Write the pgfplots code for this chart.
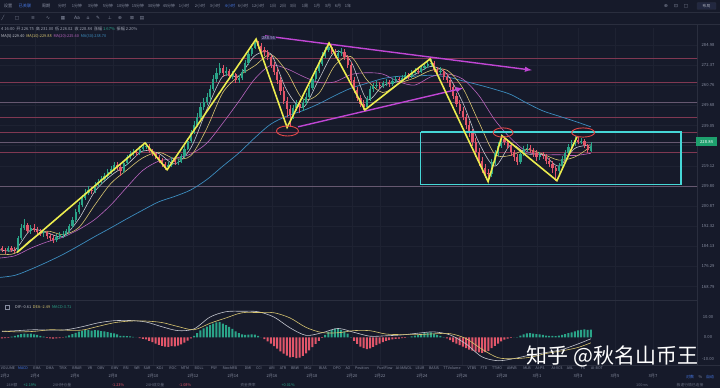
\documentclass[border=0pt]{standalone}
\usepackage{fontspec}
\setmainfont{Noto Sans CJK SC}
\newfontfamily\sym{DejaVu Sans}
\usepackage{pgfplots}
\usepackage{pgfplotstable}
\pgfplotsset{compat=1.18}
\newcommand{\fs}[1]{\fontsize{#1}{#1}\selectfont}
\definecolor{bg}{RGB}{22,26,42}
\definecolor{upc}{RGB}{42,164,136}
\definecolor{dnc}{RGB}{226,86,106}
\definecolor{txt}{RGB}{135,141,160}
\definecolor{lvl}{RGB}{128,56,82}
\definecolor{lvg}{RGB}{102,88,112}
\definecolor{gridc}{RGB}{30,34,50}
\definecolor{sepc}{RGB}{42,46,62}
\definecolor{ma5}{RGB}{195,198,206}
\definecolor{ma10}{RGB}{215,196,112}
\definecolor{ma20}{RGB}{185,100,190}
\definecolor{ma60}{RGB}{60,140,190}
\definecolor{zz}{RGB}{236,236,78}
\definecolor{mag}{RGB}{192,70,212}
\definecolor{cy}{RGB}{70,215,215}
\definecolor{ell}{RGB}{228,72,72}
\definecolor{lav}{RGB}{185,175,235}
\definecolor{lavbg}{RGB}{48,45,80}
\definecolor{blu}{RGB}{70,120,230}
\definecolor{pg}{RGB}{30,160,110}
\definecolor{boxbg}{RGB}{34,40,64}

\pgfplotstableread{
k o h l c m
0 183.4 184.4 181.9 182.8 -0.4
1 182.8 183.6 181.2 182.3 -0.3
2 182.3 184.5 181.8 183.4 -0.2
3 183.4 184.2 182.0 182.9 0.4
4 182.9 183.8 181.6 182.5 0.8
5 182.5 188.4 182.1 187.5 1.2
6 187.5 193.5 187.0 191.8 1.6
7 191.8 195.6 190.9 193.0 1.8
8 193.0 194.0 189.6 190.5 1.7
9 190.5 192.8 189.4 191.6 1.8
10 191.6 193.4 189.9 190.8 1.5
11 190.8 192.0 188.8 190.2 1.2
12 190.2 191.5 188.6 189.6 0.8
13 189.6 191.0 188.1 189.9 0.4
14 189.9 190.6 187.4 188.4 -0.2
15 188.4 189.4 186.2 187.8 -0.4
16 187.8 188.7 185.6 186.9 -0.5
17 186.9 189.3 186.0 188.2 -0.4
18 188.2 190.2 187.4 188.9 -0.3
19 188.9 190.5 187.8 189.1 -0.1
20 189.1 191.3 188.3 190.4 0.4
21 190.4 193.4 189.8 192.5 1.0
22 192.5 196.2 191.9 195.0 1.6
23 195.0 199.6 194.3 198.3 2.2
24 198.3 203.0 197.6 201.4 2.7
25 201.4 206.0 200.5 204.6 3.1
26 204.6 208.4 203.8 206.9 3.4
27 206.9 209.8 205.9 208.0 3.5
28 208.0 209.5 206.2 207.6 3.2
29 207.6 211.7 206.8 210.4 3.4
30 210.4 213.0 209.5 211.8 3.3
31 211.8 214.6 210.9 213.2 3.0
32 213.2 216.0 212.4 214.6 2.8
33 214.6 217.8 213.8 216.3 2.5
34 216.3 219.3 215.5 217.8 2.2
35 217.8 221.4 217.0 219.7 1.9
36 219.7 221.0 217.6 218.9 1.4
37 218.9 219.8 214.8 216.8 0.8
38 216.8 221.8 216.0 220.6 0.7
39 220.6 224.8 219.8 223.4 0.6
40 223.4 226.4 222.6 224.9 0.5
41 224.9 227.6 224.0 226.0 0.3
42 226.0 227.4 224.2 225.5 0.1
43 225.5 228.8 224.6 227.4 -0.3
44 227.4 230.2 226.5 228.6 -0.6
45 228.6 230.6 227.4 229.2 -0.9
46 229.2 229.8 225.6 226.5 -1.6
47 226.5 227.6 223.9 225.3 -2.2
48 225.3 226.2 222.4 223.6 -2.8
49 223.6 224.6 220.8 222.0 -3.4
50 222.0 223.0 218.8 220.0 -3.9
51 220.0 221.2 217.3 218.6 -4.3
52 218.6 221.0 217.9 219.8 -4.4
53 219.8 223.4 219.0 222.0 -4.0
54 222.0 223.2 219.8 221.0 -4.1
55 221.0 222.8 219.6 221.4 -3.8
56 221.4 225.2 220.6 224.0 -3.2
57 224.0 228.8 223.2 227.6 -2.4
58 227.6 233.0 226.8 231.5 -1.4
59 231.5 237.2 230.6 235.6 -0.4
60 235.6 241.6 234.8 239.8 0.8
61 239.8 246.0 238.6 244.0 2.0
62 244.0 251.2 243.0 249.0 3.3
63 249.0 254.0 247.6 251.8 4.2
64 251.8 256.8 250.4 254.5 5.0
65 254.5 261.4 253.2 259.2 5.8
66 259.2 267.0 258.0 264.6 6.5
67 264.6 271.2 263.2 268.5 7.0
68 268.5 274.0 266.8 271.4 7.1
69 271.4 273.2 266.2 268.0 6.4
70 268.0 272.0 266.4 269.6 5.8
71 269.6 270.8 264.6 266.4 4.9
72 266.4 269.6 264.8 267.4 4.0
73 267.4 268.4 262.2 264.0 2.9
74 264.0 267.0 262.6 265.2 2.0
75 265.2 270.6 264.0 269.0 1.4
76 269.0 276.0 268.2 274.2 1.2
77 274.2 281.4 273.0 279.5 1.3
78 279.5 285.4 278.6 283.4 1.4
79 283.4 288.5 282.4 286.2 1.3
80 286.2 287.6 282.8 284.5 0.8
81 284.5 286.0 280.4 282.0 0.1
82 282.0 283.8 278.4 280.6 -0.8
83 280.6 282.0 275.6 277.5 -1.8
84 277.5 279.0 271.4 273.2 -2.9
85 273.2 275.0 267.2 269.0 -4.0
86 269.0 271.0 262.0 264.0 -5.2
87 264.0 266.0 256.0 258.0 -6.4
88 258.0 260.2 250.6 252.6 -7.5
89 252.6 254.6 243.6 248.0 -8.4
90 248.0 250.0 238.8 244.8 -9.2
91 244.8 250.4 242.6 248.8 -9.0
92 248.8 253.0 247.0 250.6 -9.6
93 250.6 252.2 246.0 248.4 -9.4
94 248.4 253.4 247.2 251.6 -8.6
95 251.6 256.6 250.4 254.6 -7.4
96 254.6 261.4 253.6 259.5 -6.0
97 259.5 266.8 258.4 264.8 -4.5
98 264.8 271.4 263.6 269.4 -3.0
99 269.4 276.0 268.2 273.8 -1.6
100 273.8 280.6 272.6 278.4 -0.2
101 278.4 283.8 277.2 281.8 1.2
102 281.8 286.0 280.6 284.0 2.6
103 284.0 285.4 279.4 281.0 3.6
104 281.0 282.8 276.8 278.6 4.1
105 278.6 282.0 277.0 280.0 4.0
106 280.0 283.4 278.6 280.9 3.6
107 280.9 282.4 275.8 277.6 2.9
108 277.6 279.0 271.4 273.2 1.8
109 273.2 274.6 262.6 264.4 0.2
110 264.4 266.0 256.6 258.6 -1.6
111 258.6 260.4 252.2 254.2 -3.0
112 254.2 256.0 249.0 251.0 -4.2
113 251.0 253.0 247.6 249.2 -5.0
114 249.2 255.0 248.4 253.5 -5.4
115 253.5 260.6 252.6 259.0 -5.1
116 259.0 262.6 257.6 260.8 -4.4
117 260.8 263.4 259.4 261.6 -3.6
118 261.6 263.0 259.2 260.9 -2.9
119 260.9 263.8 259.6 262.2 -2.2
120 262.2 264.6 260.8 262.8 -1.6
121 262.8 264.2 260.4 262.0 -1.2
122 262.0 265.4 261.0 263.9 -0.9
123 263.9 266.6 262.6 264.8 -0.6
124 264.8 266.2 262.8 264.2 -0.5
125 264.2 267.2 263.0 265.6 -0.3
126 265.6 268.6 264.6 266.8 -0.2
127 266.8 268.2 264.6 266.0 0.1
128 266.0 270.0 265.2 268.4 0.5
129 268.4 271.4 267.4 269.6 0.9
130 269.6 271.0 267.6 269.0 1.3
131 269.0 272.8 268.0 271.0 1.7
132 271.0 274.4 270.2 272.5 2.0
133 272.5 275.4 271.4 273.6 2.3
134 273.6 276.2 272.4 274.2 2.4
135 274.2 275.4 268.6 270.2 1.8
136 270.2 272.0 267.0 268.6 1.2
137 268.6 271.6 267.4 269.4 0.8
138 269.4 270.8 264.4 266.0 0.2
139 266.0 267.6 262.4 264.2 -0.4
140 264.2 265.6 258.4 260.0 -1.2
141 260.0 261.4 253.6 255.4 -2.1
142 255.4 257.0 249.2 251.0 -2.9
143 251.0 252.8 245.4 247.2 -3.6
144 247.2 249.0 242.0 243.8 -4.3
145 243.8 245.6 237.8 239.8 -5.0
146 239.8 241.6 233.4 235.6 -5.6
147 235.6 237.4 229.0 231.2 -6.1
148 231.2 233.0 223.8 226.0 -6.6
149 226.0 228.0 219.4 221.6 -6.9
150 221.6 223.6 216.0 218.2 -7.1
151 218.2 220.2 213.6 216.0 -6.8
152 216.0 218.0 212.0 215.6 -6.2
153 215.6 222.6 214.2 221.0 -5.0
154 221.0 227.2 219.8 225.4 -3.9
155 225.4 230.8 224.0 229.0 -2.8
156 229.0 235.0 228.0 232.4 -1.8
157 232.4 234.0 229.4 231.0 -1.0
158 231.0 232.6 227.4 229.2 -0.5
159 229.2 230.6 224.0 225.8 -0.2
160 225.8 227.2 221.8 223.6 0.1
161 223.6 225.0 219.6 221.4 0.2
162 221.4 226.6 220.4 225.2 0.9
163 225.2 229.0 224.2 227.4 1.5
164 227.4 229.8 226.2 228.0 1.9
165 228.0 229.4 225.4 226.8 2.0
166 226.8 228.2 223.6 225.4 1.8
167 225.4 226.8 221.8 223.4 1.6
168 223.4 226.2 222.2 224.6 1.4
169 224.6 226.0 222.4 224.0 1.2
170 224.0 225.2 220.2 221.8 0.9
171 221.8 223.0 218.6 220.4 0.8
172 220.4 221.6 216.0 218.2 0.7
173 218.2 219.4 212.4 216.8 0.6
174 216.8 220.6 215.6 219.2 0.9
175 219.2 224.0 218.4 222.8 1.2
176 222.8 227.0 221.8 225.6 1.6
177 225.6 229.8 224.8 228.4 2.0
178 228.4 231.8 227.4 230.0 2.4
179 230.0 234.0 229.2 232.2 2.9
180 232.2 233.6 229.8 231.0 3.3
181 231.0 233.2 229.8 231.6 3.6
182 231.6 232.6 228.0 229.4 3.8
183 229.4 230.2 225.6 226.8 3.6
184 226.75 231.00 226.02 228.84 3.71
}\candles

\pgfplotstableread{
k m5 m10 m20 m60
-1 183.0 181.0 179.6 172.2
4 182.8 181.5 180.5 173.0
9 190.9 186.9 183.5 175.3
14 189.8 190.4 186.0 178.0
19 188.2 189.0 187.9 181.0
24 195.5 191.9 191.1 184.5
29 207.5 201.5 195.3 188.2
34 214.7 211.1 201.5 191.8
39 219.9 217.3 209.4 195.6
44 226.5 223.2 217.2 199.3
49 225.3 225.9 221.6 202.9
54 220.3 222.8 223.0 205.3
59 228.0 224.2 225.0 208.2
64 247.8 237.9 230.4 212.9
69 266.3 257.1 240.6 219.2
74 266.5 266.4 252.2 225.5
79 278.5 272.5 264.8 233.1
84 279.6 279.1 272.7 240.1
89 258.3 269.0 270.7 244.3
94 248.8 253.6 266.3 247.2
99 264.4 256.6 262.8 250.9
104 280.8 272.6 263.1 255.4
109 275.2 278.0 267.3 259.5
114 253.3 264.3 268.4 262.3
119 260.9 257.1 267.6 265.0
124 263.5 262.2 263.2 266.3
129 267.3 265.4 261.3 266.4
134 272.1 269.7 266.0 266.9
139 267.7 269.9 267.7 266.0
144 251.5 259.6 264.7 263.7
149 230.8 241.2 255.5 261.4
154 219.2 225.0 242.3 258.9
159 229.5 224.4 232.8 256.0
164 225.1 227.3 226.2 251.3
169 224.8 225.0 224.7 247.1
174 219.3 222.1 224.7 244.3
179 227.8 223.6 224.3 241.6
184 229.5 228.7 225.4 238.7
}\mas

\pgfplotstableread{
k dif dea
0 2.8 3.0
5 3.2 2.6
10 3.6 2.85
15 3.4 3.6
20 3.6 3.4
25 5.0 3.45
30 6.8 5.15
35 7.8 6.85
40 7.9 7.65
45 7.2 7.65
50 5.0 6.95
55 3.2 5.1
60 4.0 3.6
65 9.5 6.6
70 12.0 9.1
75 12.2 11.5
80 12.0 11.6
85 9.5 11.5
90 4.5 9.1
95 1.0 4.7
100 2.2 2.3
105 4.2 2.2
110 2.4 3.2
115 0.6 3.15
120 0.8 1.6
125 1.2 1.35
130 2.0 1.35
135 2.6 1.7
140 1.2 1.8
145 -3.0 -0.5
150 -9.0 -5.45
155 -10.8 -9.4
160 -9.8 -9.85
165 -8.2 -9.2
170 -7.0 -7.45
175 -5.6 -6.2
180 -3.0 -4.65
184 -0.61 -2.49
}\macd

\pgfplotstableread{
k p
4.7 181.8
44.7 230.5
51.6 217.5
79.4 288.7
89.1 238.4
102.2 286.2
113.4 247.6
133.75 276.5
151.9 212.0
156.25 234.1
173.4 212.4
179.7 233.6
}\zig

\pgfplotstableread{
k p
130.9 236.0
212.2 236.0
212.2 210.6
130.9 210.6
130.9 236.0
}\rectbl

\begin{document}
\begin{tikzpicture}[x=1pt,y=1pt]
\path[use as bounding box] (0pt,0pt) rectangle (720pt,388pt);
\clip (0pt,0pt) rectangle (720pt,388pt);
\fill[bg] (0pt,0pt) rectangle (720pt,388pt);
% faint grid
\foreach \gx in {35,75,113,153,193,233,272,312,352,380,422,462,502,537,578,615,653}{
  \draw[gridc, line width=0.4pt] (\gx pt,22pt) -- (\gx pt,360pt);}
\foreach \gy in {343,322.9,302.7,282.6,262.4,242.3,222.2,202.0,181.9,161.7,141.6,121.5,101.3}{
  \draw[gridc, line width=0.4pt] (0pt,\gy pt) -- (697pt,\gy pt);}
% separators
\draw[sepc, line width=0.5pt] (0pt,375.5pt) -- (720pt,375.5pt);
\draw[sepc, line width=0.5pt] (0pt,363.5pt) -- (720pt,363.5pt);
\draw[sepc, line width=0.6pt] (0pt,88pt) -- (697pt,88pt);
\draw[sepc, line width=0.5pt] (0pt,23pt) -- (720pt,23pt);
\draw[sepc, line width=0.6pt] (697pt,23pt) -- (697pt,363.5pt);

% ---------------- main price pane ----------------
\begin{axis}[at={(0pt,360pt)}, anchor=north west, scale only axis,
  width=697pt, height=272pt, xmin=-0.625, xmax=217.1875,
  ymin=5.09987, ymax=5.68934, hide axis, clip=true]
% level lines
\addplot[lvl, line width=0.6pt] table[x=k, y expr=ln(\thisrow{p}), row sep=\\]{k p\\ -2 277.1\\ 220 277.1\\};
\addplot[lvl, line width=0.6pt] table[x=k, y expr=ln(\thisrow{p}), row sep=\\]{k p\\ -2 263.0\\ 220 263.0\\};
\addplot[lvg, line width=0.6pt] table[x=k, y expr=ln(\thisrow{p}), row sep=\\]{k p\\ -2 251.9\\ 220 251.9\\};
\addplot[lvl, line width=0.6pt] table[x=k, y expr=ln(\thisrow{p}), row sep=\\]{k p\\ -2 243.8\\ 220 243.8\\};
\addplot[lvl, line width=0.6pt] table[x=k, y expr=ln(\thisrow{p}), row sep=\\]{k p\\ -2 236.0\\ 220 236.0\\};
\addplot[lvg, line width=0.6pt] table[x=k, y expr=ln(\thisrow{p}), row sep=\\]{k p\\ -2 231.0\\ 220 231.0\\};
\addplot[lvl, line width=0.6pt] table[x=k, y expr=ln(\thisrow{p}), row sep=\\]{k p\\ -2 226.0\\ 220 226.0\\};
\addplot[lvg, line width=0.6pt] table[x=k, y expr=ln(\thisrow{p}), row sep=\\]{k p\\ -2 210.0\\ 220 210.0\\};
% moving averages
\addplot[ma60, line width=0.7pt, smooth, mark=none] table[x=k, y expr=ln(\thisrow{m60})]{\mas};
\addplot[ma20, line width=0.6pt, smooth, mark=none] table[x=k, y expr=ln(\thisrow{m20})]{\mas};
\addplot[ma10, line width=0.6pt, smooth, mark=none] table[x=k, y expr=ln(\thisrow{m10})]{\mas};
\addplot[ma5, line width=0.6pt, smooth, mark=none] table[x=k, y expr=ln(\thisrow{m5})]{\mas};
% wicks (quiver segments from low to high)
\addplot[draw=upc, line width=0.6pt, mark=none,
  x filter/.expression={\thisrow{c}>=\thisrow{o} ? x : nan},
  quiver={u=0, v=ln(\thisrow{h})-ln(\thisrow{l})}]
  table[x=k, y expr=ln(\thisrow{l})]{\candles};
\addplot[draw=dnc, line width=0.6pt, mark=none,
  x filter/.expression={\thisrow{c}<\thisrow{o} ? x : nan},
  quiver={u=0, v=ln(\thisrow{h})-ln(\thisrow{l})}]
  table[x=k, y expr=ln(\thisrow{l})]{\candles};
% bodies
\addplot[draw=upc, line width=2.2pt, mark=none,
  x filter/.expression={\thisrow{c}>=\thisrow{o} ? x : nan},
  quiver={u=0, v=ln(\thisrow{c})-ln(\thisrow{o})}]
  table[x=k, y expr=ln(\thisrow{o})]{\candles};
\addplot[draw=dnc, line width=2.2pt, mark=none,
  x filter/.expression={\thisrow{c}<\thisrow{o} ? x : nan},
  quiver={u=0, v=ln(\thisrow{o})-ln(\thisrow{c})}]
  table[x=k, y expr=ln(\thisrow{c})]{\candles};
% annotations
\addplot[cy, line width=1.2pt, mark=none] table[x=k, y expr=ln(\thisrow{p})]{\rectbl};
\addplot[mag, line width=1.4pt, mark=none, -latex] table[x=k, y expr=ln(\thisrow{p}), row sep=\\]{k p\\ 82.2 290.7\\ 165.6 269.9\\};
\addplot[mag, line width=1.4pt, mark=none, -latex] table[x=k, y expr=ln(\thisrow{p}), row sep=\\]{k p\\ 92.5 238.7\\ 144.1 259.6\\};
\addplot[zz, line width=1.6pt, mark=none] table[x=k, y expr=ln(\thisrow{p})]{\zig};
\draw[ell, line width=0.9pt] (axis cs:89.2,5.4661) ellipse [x radius=11pt, y radius=5pt];
\draw[ell, line width=0.9pt] (axis cs:156.6,5.46285) ellipse [x radius=10pt, y radius=4.6pt];
\draw[ell, line width=0.9pt] (axis cs:181.6,5.46285) ellipse [x radius=11.5pt, y radius=4.6pt];
\node[font=\fs{4.2}, text=lav, fill=lavbg, inner sep=0.8pt] at (axis cs:83.3,5.6677) {288.56};
\end{axis}

% ---------------- MACD pane ----------------
\begin{axis}[at={(0pt,88pt)}, anchor=north west, scale only axis,
  width=697pt, height=66pt, xmin=-0.625, xmax=217.1875,
  ymin=-13.26, ymax=17.44, hide axis, clip=true]
\addplot[ybar, bar width=2pt, bar shift=0pt, fill=upc, draw=none,
  y filter/.expression={y>=0 ? y : nan}] table[x=k, y=m]{\candles};
\addplot[ybar, bar width=2pt, bar shift=0pt, fill=dnc, draw=none,
  y filter/.expression={y<0 ? y : nan}] table[x=k, y=m]{\candles};
\addplot[ma5, line width=0.6pt, smooth, mark=none] table[x=k, y=dif]{\macd};
\addplot[ma10, line width=0.6pt, smooth, mark=none] table[x=k, y=dea]{\macd};
\end{axis}

% ---------------- right axis labels ----------------
\foreach \v/\yy in {284.98/343, 272.37/322.9, 260.76/302.7, 249.68/282.6, 239.05/262.4, 219.12/222.2, 209.80/202.0, 200.87/181.9, 192.32/161.7, 184.13/141.6, 176.29/121.5, 168.79/101.3}{
  \node[font=\fs{4.2}, text=txt] at (708pt,\yy pt) {\v};}
\fill[pg] (696pt,241.5pt) rectangle (717pt,251pt);
\node[font=\fs{4.2}, text=white] at (706.5pt,246.3pt) {228.84};
\node[font=\fs{4.2}, text=txt] at (708pt,71pt) {10.00};
\node[font=\fs{4.2}, text=txt] at (708pt,50.5pt) {0.00};
\node[font=\fs{4.2}, text=txt] at (708pt,29pt) {-10.00};

% ---------------- toolbar ----------------
\node[font=\fs{4.2}, text=txt] at (8pt,382pt) {设置};
\node[font=\fs{4.2}, text=blu] at (25pt,382pt) {已关联};
\node[font=\fs{4.2}, text=txt] at (46pt,382pt) {周期};
\foreach \px/\t in {62/分时, 77/1分钟, 93/3分钟, 108/5分钟, 123/10分钟, 138/15分钟, 154/30分钟, 169/45分钟, 184/1小时, 200/2小时, 215/3小时, 243/6小时, 258/12小时, 273/1日, 283/2日, 293/3日, 305/1周, 317/1月, 328/3月, 338/6月, 348/1年}{
  \node[font=\fs{4.0}, text=txt] at (\px pt,382pt) {\t};}
\node[font=\fs{4.0}, text=blu] at (230pt,382pt) {4小时};
\foreach \px/\t in {3/╱, 17/□, 33/≡, 48/∿, 63/▦, 77/Aa, 88/⌂, 98/✎, 110/⊥, 120/⊕, 132/⊠, 142/▤}{
  \node[font=\sym\fs{4.6}, text=txt] at (\px pt,370pt) {\t};}
\node[font=\sym\fs{4.6}, text=txt] at (666pt,382pt) {⊕};
\node[font=\sym\fs{4.6}, text=txt] at (676pt,382pt) {⊡};
\node[font=\sym\fs{4.6}, text=txt] at (686pt,382pt) {□};
\draw[sepc, rounded corners=1pt, fill=boxbg] (697pt,378.5pt) rectangle (716pt,385.5pt);
\node[font=\fs{3.8}, text=txt!70!white] at (706.5pt,382pt) {布局};

% header rows
\node[anchor=west, font=\fs{4.1}, text=txt!80!white, inner sep=0pt] at (1pt,359pt)
 {4 16:00\ \ 开 226.75\ \ 高 231.00\ \ 低 226.02\ \ 收 228.84\ \ 涨幅 \textcolor{upc}{1.67\%}\ \ 振幅 2.20\%};
\node[anchor=west, font=\fs{3.9}, inner sep=0pt] at (1pt,352pt)
 {\textcolor{ma5}{MA(5):229.40}\ \ \textcolor{ma10}{MA(10):229.88}\ \ \textcolor{ma20}{MA(20):225.40}\ \ \textcolor{ma60}{MA(30):238.70}};

% MACD header
\draw[txt, line width=0.4pt] (5pt,78.5pt) rectangle (9pt,82.5pt);
\node[anchor=west, font=\fs{3.9}, inner sep=0pt] at (15pt,81pt)
 {\textcolor{ma5}{DIF:-0.61}\ \ \textcolor{ma10}{DEA:-2.49}\ \ \textcolor{upc}{MACD:3.71}};

% indicator names
\foreach \px/\t in {8/VOLUME, 37/EMA, 50/DMA, 63/TRIX, 77/BRAR, 90/VR, 101/OBV, 115/EMV, 126/RSI, 137/WR, 147/SAR, 160/KDJ, 173/ROC, 185/MTM, 199/BOLL, 214/PSY, 230/StochRSI, 248/DMI, 259/CCI, 272/ARI, 283/ATR, 295/BBW, 308/MGJ, 323/BIAS, 337/DPO, 348/AO, 362/Position, 385/FuelFlow, 404/AI-MAVOL, 420/LSUR, 434/BASIS, 452/TTVolume, 472/VTBS, 484/FTD, 497/TTMO, 512/AMVB, 527/MLB, 540/AI-PS, 557/AI-VCS, 570/AVL, 583/FS, 597/AI-BOT}{
  \node[font=\fs{3.6}, text=txt] at (\px pt,20pt) {\t};}
\node[font=\fs{3.6}, text=blu] at (23pt,20pt) {MACD};

% dates
\node[anchor=west, font=\fs{4.1}, text=txt, inner sep=0pt] at (0.5pt,12pt) {2月2};
\foreach \px/\t in {35/2月4, 75/2月6, 113/2月8, 153/2月10, 193/2月12, 233/2月14, 272/2月16, 312/2月18, 352/2月20, 380/2月22, 422/2月24, 462/2月26, 502/2月28, 537/3月1, 578/3月3, 615/3月5, 653/3月7}{
  \node[font=\fs{4.1}, text=txt] at (\px pt,12pt) {\t};}
\node[font=\fs{3.9}, text=blu] at (690pt,11pt) {对数};
\node[font=\fs{3.9}, text=txt] at (700.5pt,11pt) {\%};
\node[font=\fs{3.9}, text=blu] at (710pt,11pt) {自动};

% bottom status row
\foreach \px/\t in {12/24H额, 62/24H持仓量, 155/24H成交量, 248/资金费率}{
  \node[font=\fs{3.8}, text=txt!70!bg] at (\px pt,3pt) {\t};}
\node[font=\fs{3.8}, text=upc] at (30pt,3pt) {+2.19\%};
\node[font=\fs{3.8}, text=dnc] at (118pt,3pt) {-1.23\%};
\node[font=\fs{3.8}, text=dnc] at (185pt,3pt) {-1.08\%};
\node[font=\fs{3.8}, text=upc] at (288pt,3pt) {+0.01\%};
\node[font=\fs{3.8}, text=txt!70!bg] at (642pt,3pt) {100ms};
\node[font=\fs{3.8}, text=txt!70!bg] at (690pt,3pt) {极速行情已连接};

% watermark
\node[font=\fs{21}, text=white] at (612.5pt,32pt) {知乎 @秋名山币王};
\end{tikzpicture}
\end{document}
